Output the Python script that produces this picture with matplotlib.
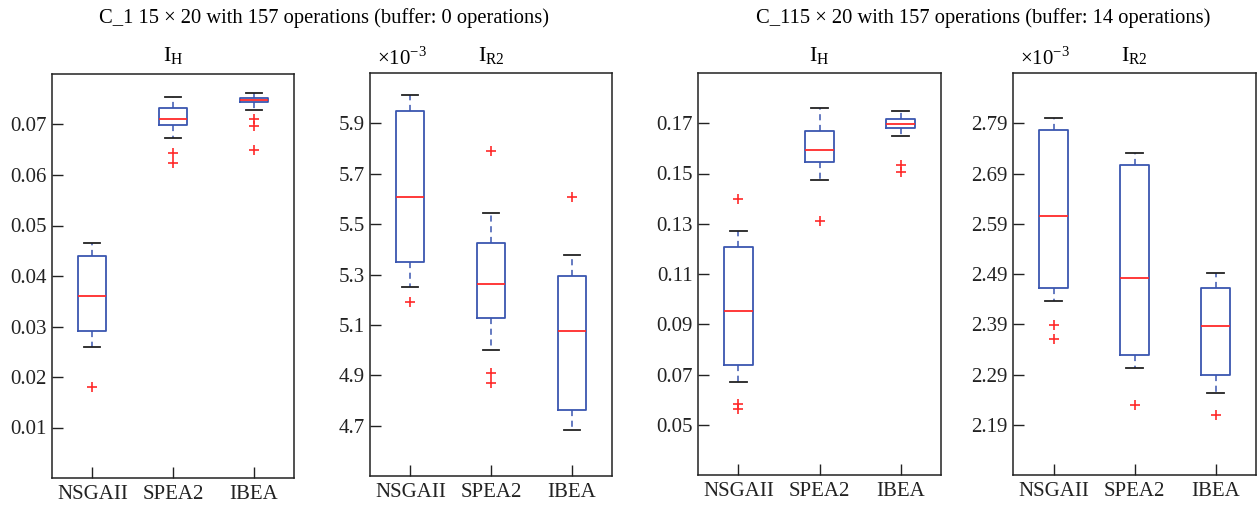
import numpy as np
import matplotlib
matplotlib.use("Agg")
import matplotlib.pyplot as plt

plt.rcParams["font.family"] = ["Liberation Serif", "DejaVu Serif"]
plt.rcParams["mathtext.fontset"] = "custom"
plt.rcParams["mathtext.rm"] = "Liberation Serif"

ALGOS = ["NSGAII", "SPEA2", "IBEA"]

# box stats per algorithm: (whislo, q1, med, q3, whishi), outliers
# buffer 0, I_H
ih0_stats = [(0.0259, 0.0291, 0.0360, 0.0440, 0.0465),
             (0.0673, 0.0699, 0.0710, 0.0732, 0.0755),
             (0.0728, 0.0744, 0.0748, 0.0752, 0.0763)]
ih0_fliers = [[0.0180], [0.0644, 0.0623], [0.0711, 0.0697, 0.0650]]
# buffer 0, I_R2 (x 1e-3)
ir0_stats = [(5.252, 5.350, 5.607, 5.948, 6.014),
             (5.000, 5.129, 5.264, 5.427, 5.543),
             (4.684, 4.761, 5.074, 5.296, 5.378)]
ir0_fliers = [[5.192], [5.792, 4.907, 4.870], [5.607]]
# buffer 14, I_H
ih14_stats = [(0.0672, 0.0739, 0.0952, 0.1209, 0.1272),
              (0.1475, 0.1544, 0.1595, 0.1668, 0.1759),
              (0.1648, 0.1683, 0.1697, 0.1715, 0.1748)]
ih14_fliers = [[0.1399, 0.0584, 0.0563], [0.1309], [0.1533, 0.1507]]
# buffer 14, I_R2 (x 1e-3)
ir14_stats = [(2.437, 2.463, 2.605, 2.777, 2.801),
              (2.303, 2.329, 2.482, 2.706, 2.730),
              (2.253, 2.289, 2.386, 2.463, 2.491)]
ir14_fliers = [[2.389, 2.361], [2.229], [2.209]]

ih0_ticks = [0.01, 0.02, 0.03, 0.04, 0.05, 0.06, 0.07]
ir0_ticks = [4.7, 4.9, 5.1, 5.3, 5.5, 5.7, 5.9]
ih14_ticks = [0.05, 0.07, 0.09, 0.11, 0.13, 0.15, 0.17]
ir14_ticks = [2.19, 2.29, 2.39, 2.49, 2.59, 2.69, 2.79]

BLUE = "#3a56b0"
RED = "#ff2a2a"

W, H = 1258, 508
fig = plt.figure(figsize=(W / 100, H / 100), dpi=100)


def px_axes(x0, y0, x1, y1):
    return fig.add_axes([x0 / W, 1 - y1 / H, (x1 - x0) / W, (y1 - y0) / H])


def draw(ax, stats, fliers, ticks, ylim, fmt, title, sci=False):
    bx = []
    for s, f in zip(stats, fliers):
        bx.append(dict(whislo=s[0], q1=s[1], med=s[2], q3=s[3], whishi=s[4], fliers=f))
    ax.bxp(bx, positions=[1, 2, 3], widths=0.35, capwidths=0.2,
           boxprops=dict(color=BLUE, lw=1.3),
           whiskerprops=dict(color=BLUE, lw=1.1, ls=(0, (4, 3))),
           capprops=dict(color="#222222", lw=1.3),
           medianprops=dict(color=RED, lw=1.3),
           flierprops=dict(marker="+", markeredgecolor=RED, markersize=6.5, mew=1.2))
    ax.set_xlim(0.5, 3.5)
    ax.set_ylim(*ylim)
    ax.set_yticks(ticks)
    ax.set_yticklabels([fmt.format(t) for t in ticks])
    ax.set_xticks([1, 2, 3])
    ax.set_xticklabels(ALGOS)
    ax.tick_params(direction="in", length=8, width=1, labelsize=15, colors="#222222",
                   top=False, right=False)
    ax.tick_params(axis="x", pad=5)
    ax.tick_params(axis="y", pad=4)
    for sp in ax.spines.values():
        sp.set_color("#222222")
        sp.set_linewidth(1.1)
    ax.set_title(title, fontsize=16, pad=9)
    if sci:
        ax.text(0.03, 1.008, r"$\times 10^{-3}$", transform=ax.transAxes,
                fontsize=15, ha="left", va="bottom")


ax1 = px_axes(52, 74, 294, 478)
draw(ax1, ih0_stats, ih0_fliers, ih0_ticks, (0.0, 0.08), "{:.2f}", r"$\mathrm{I_H}$")
ax2 = px_axes(370, 73, 612, 476)
draw(ax2, ir0_stats, ir0_fliers, ir0_ticks, (4.5, 6.1), "{:.1f}", r"$\mathrm{I_{R2}}$", sci=True)
ax3 = px_axes(698, 73, 941, 475)
draw(ax3, ih14_stats, ih14_fliers, ih14_ticks, (0.03, 0.19), "{:.2f}", r"$\mathrm{I_H}$")
ax4 = px_axes(1013, 73, 1256, 475)
draw(ax4, ir14_stats, ir14_fliers, ir14_ticks, (2.09, 2.89), "{:.2f}", r"$\mathrm{I_{R2}}$", sci=True)

fig.text(324 / W, 1 - 18 / H, "C_1 15 × 20 with 157 operations (buffer: 0 operations)",
         ha="center", va="center", fontsize=14.8)
fig.text(983 / W, 1 - 18 / H, "C_115 × 20 with 157 operations (buffer: 14 operations)",
         ha="center", va="center", fontsize=14.8)

fig.savefig("out.png", dpi=100)
